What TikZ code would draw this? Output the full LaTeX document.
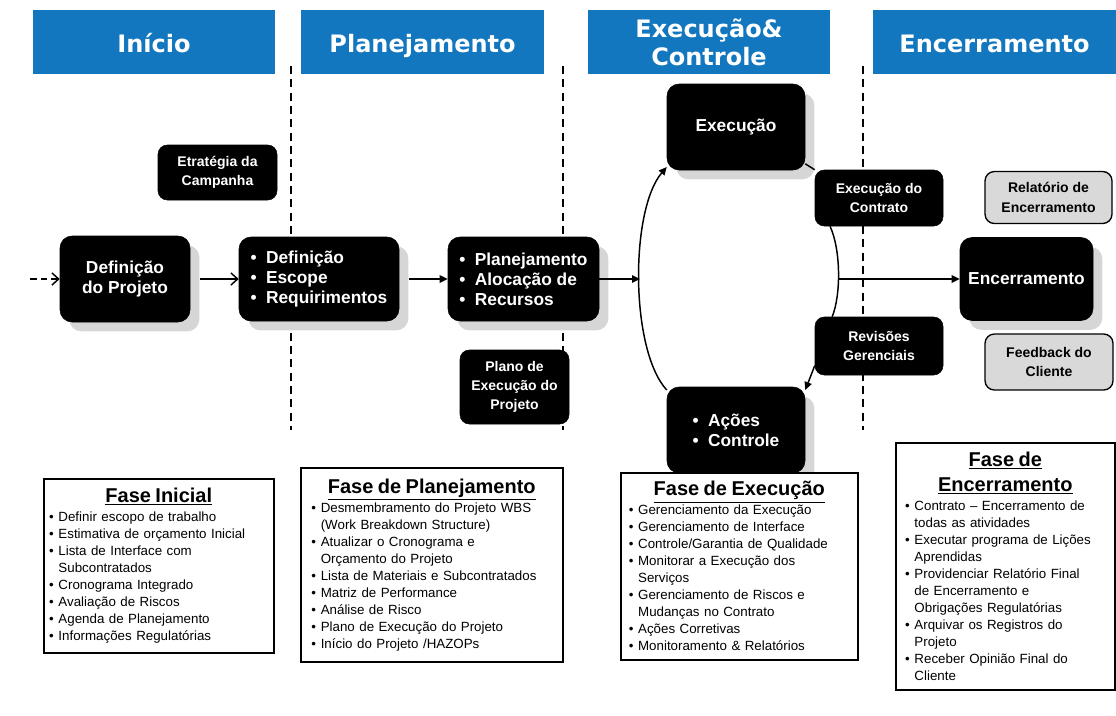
\documentclass[tikz,border=0pt]{standalone}
\usepackage{fontspec}
\setmainfont{Liberation Sans}
\newfontfamily\hdfont{DejaVu Sans}
\usetikzlibrary{arrows.meta,shadows}
\definecolor{hdblue}{RGB}{18,119,190}
\definecolor{shgray}{RGB}{214,214,214}
\definecolor{boxgray}{RGB}{217,217,217}
\newcommand{\itm}{\par\hangindent=7pt\hangafter=1\noindent\makebox[7pt][l]{\textbullet}}
\newcommand{\bl}{\textbullet\hspace{7pt}}
\newcommand{\fase}[1]{{\centering\fontsize{15}{19}\selectfont\bfseries #1\par}\vspace{1.5pt}}

\begin{document}
\begin{tikzpicture}[x=0.75pt,y=-0.75pt,every node/.style={inner sep=0pt},
	hdr/.style={fill=hdblue,text=white,minimum width=182pt,minimum height=48pt,align=center,font=\hdfont\bfseries\fontsize{18}{21}\selectfont},
	hdrone/.style={hdr,text height=15pt,text depth=0pt},
	blk/.style={fill=black,draw=black,rounded corners=9pt,text=white,align=center,font=\bfseries\fontsize{13}{15}\selectfont},
	sml/.style={blk,rounded corners=7pt,font=\bfseries\fontsize{10.5}{14.5}\selectfont},
	shd/.style={drop shadow={shadow xshift=7pt,shadow yshift=-7pt,fill=shgray,opacity=1}},
	gry/.style={sml,fill=boxgray,text=black,line width=1pt},
	fasebox/.style={draw=black,line width=1.2pt,fill=white,anchor=north west,align=left,inner ysep=3pt,font=\fontsize{10}{12.75}\selectfont},
	divline/.style={line width=1.2pt,dash pattern=on 6pt off 4pt},
	conn/.style={line width=1.1pt,-{Triangle[length=6pt,width=5.5pt]}},
	openconn/.style={line width=1.1pt,-{Straight Barb[length=5pt,width=9pt]}}]
	\useasboundingbox (0,0) rectangle (1116,715);

	%phase headers
	\node [hdrone] (hinicio) at (154,42) {Início};
	\node [hdrone] (hplan) at (422.5,42) {Planejamento};
	\node [hdr] (hexec) at (709,42) {Execução\&\\Controle};
	\node [hdrone] (hencer) at (994.5,42) {Encerramento};

	%phase dividers
	\draw [divline] (291,66) -- (291,430);
	\draw [divline] (563,66) -- (563,430);
	\draw [divline] (863,66) -- (863,430);

	%main boxes
	\node [blk,shd,minimum width=97.5pt,minimum height=64.5pt] (dproj) at (125,279) {Definição\\do Projeto};
	\node [blk,shd,align=left,minimum width=120pt,minimum height=63pt] (defin) at (319,279) {\bl Definição\\\bl Escope\\\bl Requirimentos};
	\node [blk,shd,align=left,minimum width=113.25pt,minimum height=63pt] (plan) at (523.5,279) {\bl Planejamento\\\bl Alocação de\\\bl Recursos};
	\node [blk,shd,minimum width=103.5pt,minimum height=64.5pt] (exec) at (736,127) {Execução};
	\node [blk,shd,align=left,minimum width=103.5pt,minimum height=64.5pt] (acoes) at (736,430) {\bl Ações\\\bl Controle};
	\node [blk,shd,minimum width=99.75pt,minimum height=62.25pt] (encer) at (1026.5,279) {Encerramento};

	%small boxes
	\node [sml,minimum width=89.25pt,minimum height=41.25pt] (estrat) at (217.5,172.5) {Etratégia da\\Campanha};
	\node [sml,minimum width=81.75pt,minimum height=55.5pt] (plano) at (514.5,387) {Plano de\\Execução do\\Projeto};
	\node [sml,minimum width=96pt,minimum height=42pt] (contrato) at (879,198) {Execução do\\Contrato};
	\node [sml,minimum width=96pt,minimum height=43.5pt] (revis) at (879,346) {Revisões\\Gerenciais};
	\node [gry,minimum width=95.25pt,minimum height=39pt] (relat) at (1048.5,197.5) {Relatório de\\Encerramento};
	\node [gry,minimum width=96pt,minimum height=42pt] (feedb) at (1049,362) {Feedback do\\Cliente};

	%free ends
	\coordinate (start) at (30,279);
	\coordinate (arcleft) at (640,279);
	\coordinate (arcright) at (838,279);

	%edges
	\draw [openconn,dash pattern=on 5pt off 3pt] (start) -- (dproj);
	\draw [openconn,shorten <=7.5pt] (dproj) -- (defin);
	\draw [conn,shorten <=7.5pt] (defin) -- (plan);
	\draw [conn] (plan) -- (arcleft);
	\draw [conn] (acoes.150) .. controls (630,350) and (630,210) .. (exec.210);
	\draw [line width=1.1pt] (exec.-28) -- (contrato.north west);
	\draw [line width=1.1pt] (contrato.210) .. controls (841,250) and (841,295) .. (revis.148);
	\draw [conn] (revis.197) -- (acoes.30);
	\draw [conn] (arcright) -- (encer);

	%phase lists
	\node [fasebox,text width=164.5pt,inner xsep=4pt,minimum height=130.5pt] (finicial) at (43,478) {%
		\fase{\underline{Fase Inicial}}
		\itm Definir escopo de trabalho
		\itm Estimativa de orçamento Inicial
		\itm Lista de Interface com\newline Subcontratados
		\itm Cronograma Integrado
		\itm Avaliação de Riscos
		\itm Agenda de Planejamento
		\itm Informações Regulatórias\par};
	\node [fasebox,text width=180.5pt,inner xsep=8pt,minimum height=145.5pt] (fplan) at (300,467) {%
		\fase{\underline{Fase de Planejamento}}
		\itm Desmembramento do Projeto WBS\newline (Work Breakdown Structure)
		\itm Atualizar o Cronograma e\newline Orçamento do Projeto
		\itm Lista de Materiais e Subcontratados
		\itm Matriz de Performance
		\itm Análise de Risco
		\itm Plano de Execução do Projeto
		\itm Início do Projeto /HAZOPs\par};
	\node [fasebox,text width=165.75pt,inner xsep=6pt,minimum height=140.25pt] (fexec) at (620,472) {%
		\fase{\underline{Fase de Execução}}
		\itm Gerenciamento da Execução
		\itm Gerenciamento de Interface
		\itm Controle/Garantia de Qualidade
		\itm Monitorar a Execução dos\newline Serviços
		\itm Gerenciamento de Riscos e\newline Mudanças no Contrato
		\itm Ações Corretivas
		\itm Monitoramento \& Relatórios\par};
	\node [fasebox,text width=150.25pt,inner xsep=7pt,minimum height=185.25pt] (fencer) at (895,442) {%
		\fase{\underline{Fase de}\\\underline{Encerramento}}
		\itm Contrato -- Encerramento de\newline todas as atividades
		\itm Executar programa de Lições\newline Aprendidas
		\itm Providenciar Relatório Final\newline de Encerramento e\newline Obrigações Regulatórias
		\itm Arquivar os Registros do\newline Projeto
		\itm Receber Opinião Final do\newline Cliente\par};
\end{tikzpicture}
\end{document}
